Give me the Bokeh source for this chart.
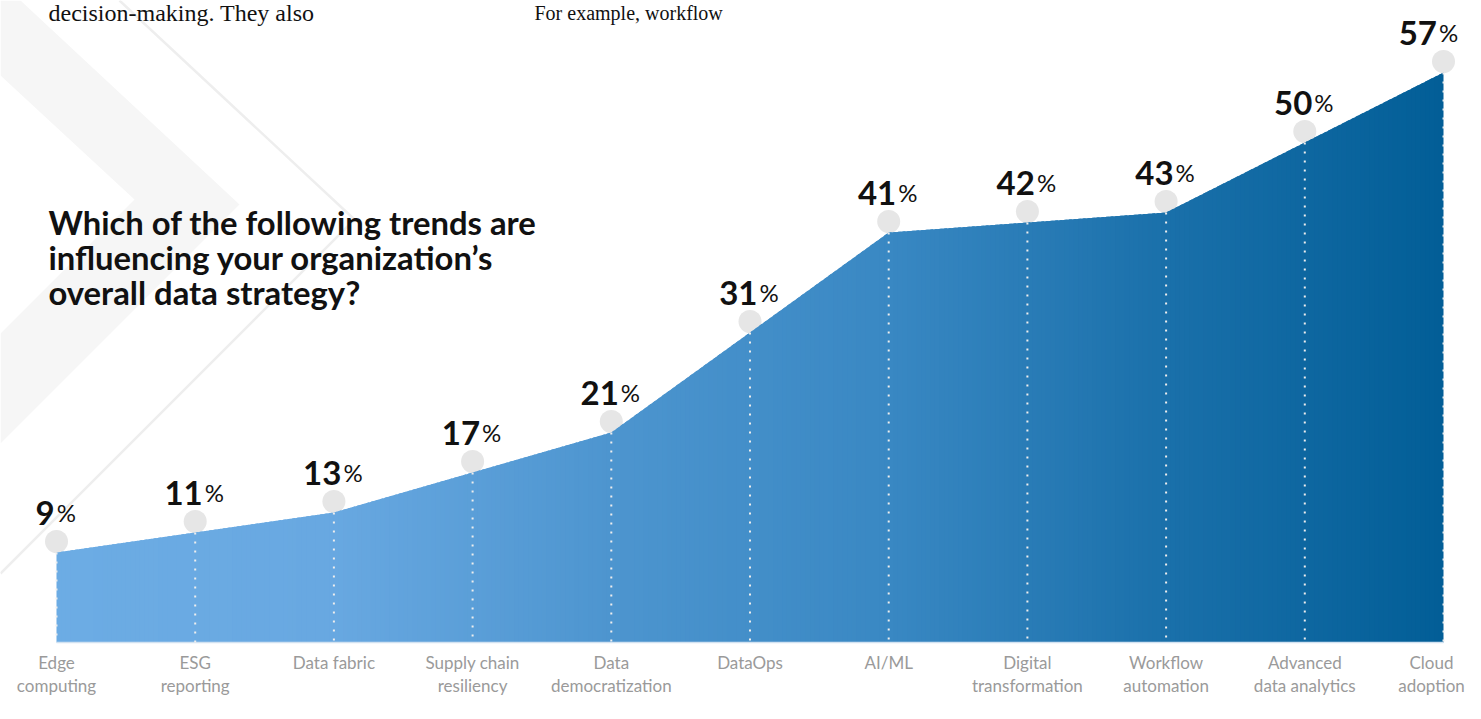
from bokeh.plotting import figure
from bokeh.models import Range1d, ColumnDataSource
from bokeh.core.properties import value
from bokeh.embed import file_html
from bokeh.resources import INLINE

# ---------------- data ----------------
categories = ["Edge\ncomputing", "ESG\nreporting", "Data fabric", "Supply chain\nresiliency",
              "Data\ndemocratization", "DataOps", "AI/ML", "Digital\ntransformation",
              "Workflow\nautomation", "Advanced\ndata analytics", "Cloud\nadoption"]
values = [9, 11, 13, 17, 21, 31, 41, 42, 43, 50, 57]
title_lines = ["Which of the following trends are",
               "influencing your organization\u2019s",
               "overall data strategy?"]
top_texts = ["decision-making. They also", "For example, workflow"]

# ---------------- layout (picture px -> data) ----------------
W, H = 1465, 703
PX_CAT = 138.7
PX_PCT = 10.0
X0S = 56
BASES = 642

def dx(sx):
    return (sx - X0S) / PX_CAT

def dy(sy):
    return (BASES - sy) / PX_PCT

p = figure(width=W, height=H,
           x_range=Range1d(dx(0), dx(W)), y_range=Range1d(dy(H), dy(0)),
           output_backend="svg", toolbar_location=None, min_border=0,
           x_axis_location=None, y_axis_location=None)
p.grid.visible = False
p.outline_line_color = None
p.background_fill_color = "white"
p.border_fill_color = "white"

# ---------------- background chevrons ----------------
band = [(0, 0), (20, 0), (239, 204), (0, 443), (0, 333), (134, 199), (0, 75)]
p.patch([dx(a) for a, b in band], [dy(b) for a, b in band],
        fill_color="#f6f6f6", line_color=None)
thin = [(119, 0), (354, 219), (0, 573)]
p.line([dx(a) for a, b in thin], [dy(b) for a, b in thin],
       line_color="#eeeeee", line_width=2.5)

# ---------------- grey markers (behind area) ----------------
xs = list(range(len(values)))
p.scatter(xs, [v + 11 / PX_PCT for v in values], size=23,
          fill_color="#e6e6e6", line_color=None)

# ---------------- gradient area (overlapping strips that follow the polyline) ----------------
stops = [(0, (108, 172, 228)), (2, (104, 168, 225)), (4, (77, 149, 207)),
         (6, (57, 136, 195)), (8, (26, 112, 170)), (10, (2, 94, 151))]

def col_at(t):
    for (t0, c0), (t1, c1) in zip(stops[:-1], stops[1:]):
        if t0 <= t <= t1:
            f = (t - t0) / (t1 - t0)
            return "#%02x%02x%02x" % tuple(int(round(a + (b - a) * f)) for a, b in zip(c0, c1))
    return "#%02x%02x%02x" % stops[-1][1]

def top_at(x):
    i = min(int(x), len(values) - 2)
    f = x - i
    return values[i] + (values[i + 1] - values[i]) * f

NS = 300
last = len(values) - 1
w = last / NS
pxs, pys, pcs = [], [], []
for k in range(NS):
    a = k * w
    b = min(a + 1.6 * w, last)
    inner = [v for v in range(int(a) + 1, int(b) + 1) if a < v < b]
    top_x = [a] + inner + [b]
    top_y = [top_at(t) for t in top_x]
    pxs.append([a, b] + top_x[::-1])
    pys.append([0, 0] + top_y[::-1])
    pcs.append(col_at(a + w / 2))
p.patches(pxs, pys, fill_color=pcs, line_color=None)

# baseline
p.line([xs[0], xs[-1]], [0, 0], line_color="#d2e2f1", line_width=1.5)

# dotted verticals
p.segment(x0=xs, y0=values, x1=xs, y1=[0] * len(values),
          line_color="#eeeeee", line_width=2, line_dash="2 7")

# ---------------- value labels ----------------
num_txt = [str(v) for v in values]
w_pct, gap, w_dig = 20, 2, 18.5
offs = [(len(s) * w_dig - w_pct - gap) / 2 for s in num_txt]
offs[-1] -= 14  # keep the last label inside the picture
lab_y = [v + 40 / PX_PCT for v in values]
src = ColumnDataSource(dict(x=xs, y=lab_y, t=num_txt, off=offs,
                            off2=[o + gap for o in offs], pct=["%"] * len(values)))
p.text(x="x", y="y", text="t", x_offset="off", source=src,
       text_font=value("Lato"), text_font_style="bold", text_font_size="33px",
       text_align="right", text_baseline="alphabetic", text_color="#111111")
p.text(x="x", y="y", text="pct", x_offset="off2", source=src,
       text_font=value("Lato"), text_font_size="24px",
       text_align="left", text_baseline="alphabetic", text_color="#111111")

# ---------------- category labels ----------------
cat_off = [0] * (len(xs) - 1) + [-12]
p.text(x=xs, y=[dy(651)] * len(xs), text=categories, x_offset=cat_off,
       text_font=value("Lato"), text_font_size="17px", text_color="#9a9a9a",
       text_align="center", text_baseline="top", text_line_height=1.1)

# ---------------- title ----------------
p.text(x=[dx(48)] * 3, y=[dy(222), dy(257), dy(292)], text=title_lines,
       text_font=value("Lato"), text_font_style="bold", text_font_size="32.8px",
       text_color="#111111", text_align="left", text_baseline="alphabetic")

# ---------------- cut-off body text at top ----------------
p.text(x=[dx(48)], y=[dy(12)], text=[top_texts[0]],
       text_font=value("Liberation Serif"), text_font_size="24px",
       text_color="#111111", text_align="left", text_baseline="alphabetic")
p.text(x=[dx(534)], y=[dy(12)], text=[top_texts[1]],
       text_font=value("Liberation Serif"), text_font_size="20px",
       text_color="#111111", text_align="left", text_baseline="alphabetic")

open("out.html", "w").write(file_html(p, INLINE))
